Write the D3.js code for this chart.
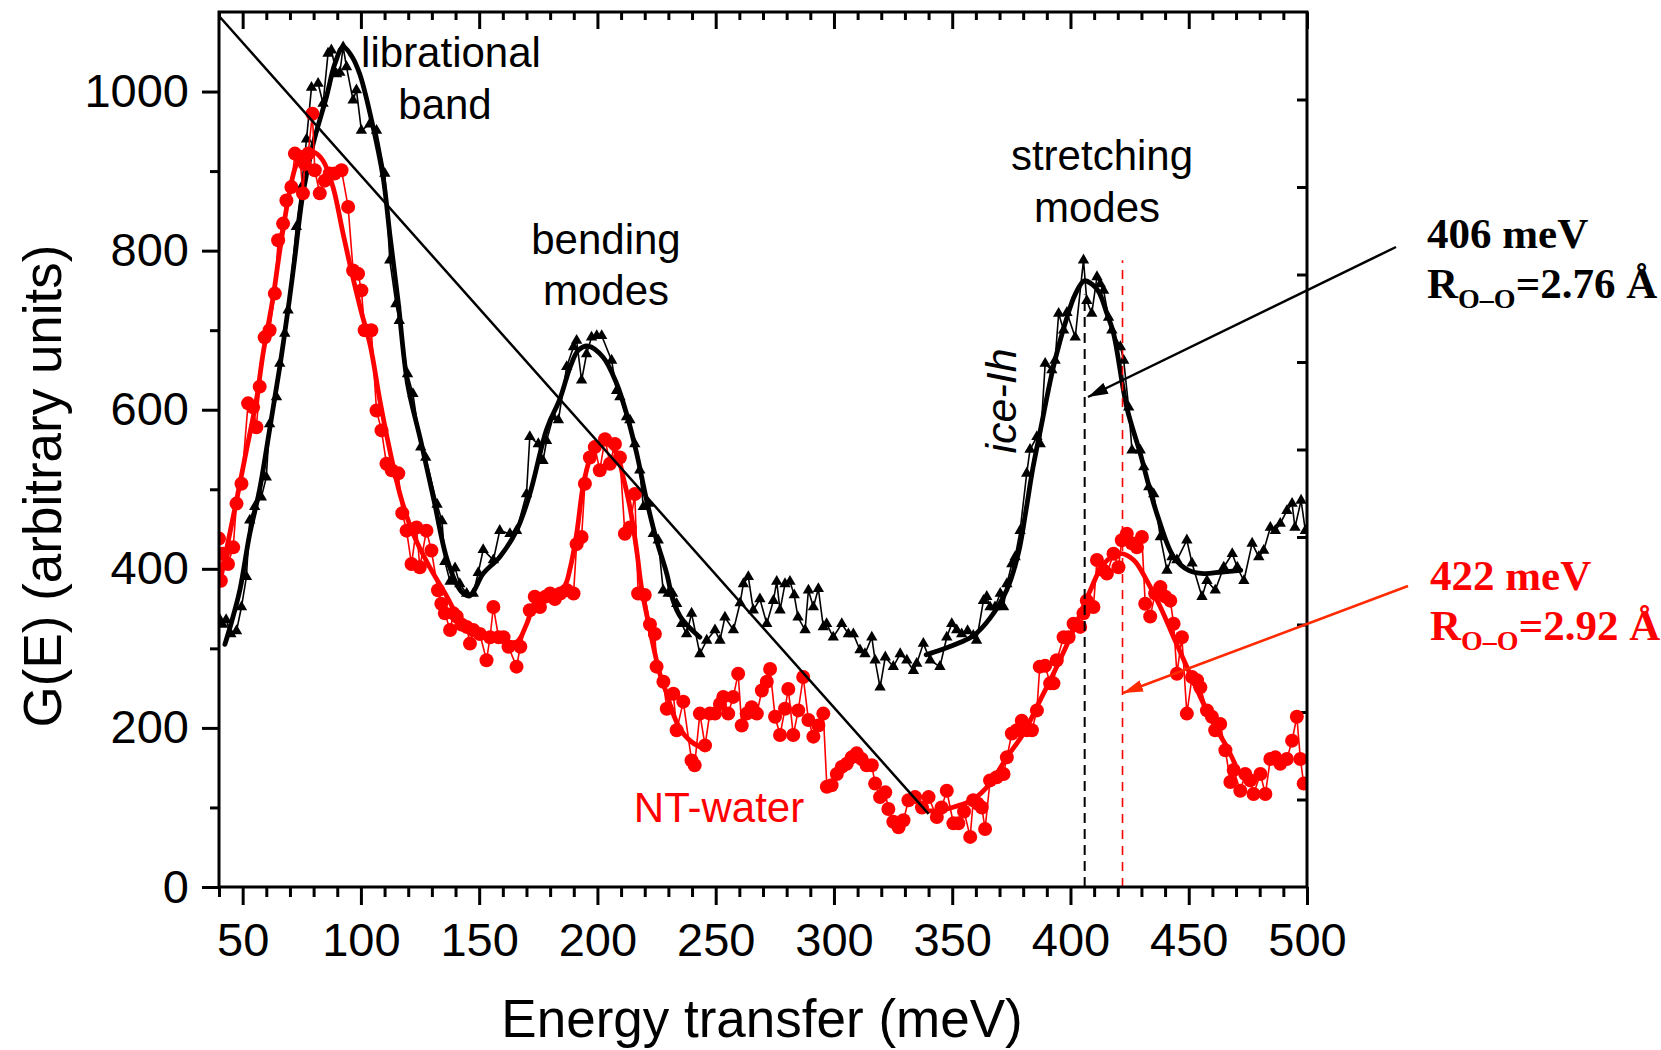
<!doctype html>
<html>
<head>
<meta charset="utf-8">
<title>G(E) ice-Ih and NT-water</title>
<style>
  body { margin: 0; background: #fff; }
  svg { display: block; }
</style>
</head>
<body>
<svg width="1661" height="1050"></svg>
<script src="https://d3js.org/d3.v7.min.js"></script>
<script>
// measured G(E) of bulk ice-Ih (black triangles), [energy meV, G]
const iceData = [[40,338],[41.5,330],[43,336],[45,318],[47.4,322],[49.5,352],[51.6,390],[53,461],[55.1,478],[57.9,490],[60,515],[61.4,582],[64.3,616],[65.7,658],[67.8,696],[69.2,725],[72.7,830],[74.9,880],[77,940],[79.1,1005],[81.9,1010],[84,985],[86.1,1048],[87.5,1052],[89.7,1022],[91.1,1024],[92.5,1056],[93.9,1031],[96.7,989],[98.1,1002],[100.2,951],[103.7,959],[106.6,951],[110.1,897],[112.2,788],[114.8,733],[116.2,712],[119.7,645],[122,620],[125.3,553],[127.4,540],[132.2,481],[134.3,460],[135.5,409],[137.7,384],[139.8,401],[141.8,381],[144.7,369],[147.5,369],[149.6,395],[151.7,424],[156,411],[158.7,448],[163,444],[165.8,448],[170,494],[171.4,566],[175,557],[177,536],[178.5,561],[181.3,591],[183.5,587],[187,654],[189.9,679],[191.2,687],[193.3,637],[195.4,670],[197.5,691],[199.7,693],[201.8,693],[206,662],[208.1,624],[209.5,616],[212.3,591],[213.7,587],[215.8,557],[217.9,524],[219.4,478],[221.5,482],[223.6,444],[225.7,436],[227.8,373],[229.9,369],[231.8,369],[233.5,356],[235.6,331],[237.7,318],[239.8,344],[243.3,293],[246.2,310],[249.7,323],[251.8,310],[253.9,339],[257.5,323],[260.3,357],[261.7,381],[263.8,390],[265.9,348],[268.7,362],[271.6,331],[274.4,360],[275.8,384],[277.2,348],[279.3,381],[281.4,384],[283.2,367],[284.8,339],[287.8,323],[289.2,373],[291.3,352],[293.4,375],[295.5,327],[296.9,331],[299.7,314],[303.3,331],[306.1,318],[308.2,318],[311,298],[313.1,293],[316,314],[317.4,285],[319.5,251],[321.7,289],[325.1,277],[328,293],[330.8,285],[333.6,272],[335,281],[337.8,306],[340.7,285],[344.8,277],[347.7,314],[349.8,331],[351.9,323],[354,318],[356.5,322],[358.9,316],[360.3,310],[363.2,360],[364.6,365],[366,352],[368.1,352],[370.3,369],[371.7,352],[373.1,381],[375.2,406],[376.6,415],[378.7,448],[381.5,520],[382.9,550],[385.8,566],[387.2,557],[389.3,658],[392.1,650],[393.5,662],[395,721],[397.1,700],[398.5,722],[402,691],[405.5,788],[406.9,737],[409,721],[411.2,767],[412.6,758],[414,750],[416.1,716],[417.5,700],[421.1,679],[422.5,662],[424.6,603],[426,549],[429.5,549],[431,528],[433.1,503],[435.2,494],[438,440],[440.8,398],[442.9,415],[445,411],[449.2,436],[451.4,407],[455.6,365],[457.7,385],[461.2,373],[464.8,402],[468.4,419],[470.5,402],[473.3,385],[476.8,432],[479.6,415],[481.7,423],[484.5,452],[486.6,448],[488.7,457],[491.5,473],[493.7,482],[494.9,452],[497.5,486],[499.3,448]];

// measured G(E) of water in nanotubes (red circles)
const ntData = [[40,438],[40.8,385],[41.7,419],[43.8,406],[46,427],[47.4,482],[49.5,507],[52.3,608],[54.4,603],[55.8,578],[57.2,629],[59.3,691],[61.4,700],[63.6,746],[65,813],[67.1,834],[68.5,863],[70.6,880],[72.1,922],[74.2,918],[75.5,872],[76.3,909],[77.7,922],[79.5,972],[80.5,901],[82.6,872],[84.7,888],[86.8,897],[88.9,897],[91.8,901],[94.6,855],[96.7,775],[98.8,771],[100.2,750],[101.6,700],[104.4,700],[106.6,599],[108.7,574],[110.8,532],[113,524],[115.8,520],[117.5,470],[119.3,448],[121.4,406],[123.5,452],[124.9,402],[127.7,448],[129.8,423],[132.6,373],[134,356],[135.5,344],[137.7,323],[139.1,344],[140.5,340],[142.5,330],[144.7,327],[146.1,306],[147.5,323],[150.3,318],[153.1,285],[154.6,314],[156,352],[158.2,314],[160.3,314],[162.4,302],[165.8,277],[167.4,302],[171.4,348],[173.5,365],[175.7,352],[178,365],[180,369],[182,362],[184.3,369],[187.1,373],[189.9,369],[191.2,431],[193.3,440],[194.7,507],[196.8,540],[198.9,553],[201,524],[203.2,563],[205.3,532],[207.4,557],[209.5,540],[211.6,444],[213.7,452],[215.8,494],[217.2,369],[220,367],[222.2,330],[224.3,318],[225,277],[227.9,258],[229.3,224],[232.1,243],[233.5,197],[236.3,233],[239.8,159],[241.1,153],[243.3,218],[245.5,178],[247.5,218],[249.7,218],[251.8,230],[253.2,239],[255.3,218],[257.4,239],[259.5,268],[261,203],[263.1,218],[265.2,226],[267.4,218],[269.5,247],[271.6,258],[273,274],[275.1,214],[277.2,191],[279.3,224],[280.7,249],[282.8,191],[284.9,222],[287,264],[289.2,210],[291.3,189],[293.4,203],[295.5,218],[297,126],[299,128],[301.2,142],[303.3,151],[305.4,155],[307.5,163],[309.6,168],[311.7,161],[313.8,153],[316,153],[317.4,130],[319.5,113],[321.7,119],[323,98],[325.1,82],[327.3,75],[329.4,84],[331.5,109],[334.3,113],[337.2,100],[340,113],[343.5,88],[345.5,100],[347.7,121],[350.5,80],[352.6,80],[355,95],[357.6,63],[358.9,109],[360.7,105],[362.5,100],[363.9,73],[366,134],[368.8,138],[371.7,142],[373.1,163],[375.2,193],[377.3,197],[379.4,209],[381.5,197],[383.7,197],[385.8,222],[387,277],[389.3,278],[391.4,256],[392.8,256],[394.2,285],[397.1,314],[399.2,314],[401.3,331],[404.1,327],[405.5,344],[406.9,360],[409.7,352],[411.2,411],[414,398],[415.4,394],[418.2,419],[420.3,402],[421.7,436],[423.8,444],[425.9,432],[428.1,427],[430.2,440],[431.6,356],[433.7,340],[435.8,369],[438,377],[440.1,365],[442.2,360],[443.6,331],[445,268],[447.1,314],[449.2,218],[451.4,264],[453.5,260],[454.9,251],[457.7,222],[459.8,214],[461.2,197],[463.3,205],[465.5,172],[467.6,132],[469,147],[471.8,121],[473.9,142],[476,134],[477.4,117],[480.3,142],[482.4,117],[484.5,161],[486.6,163],[488.7,155],[491.5,161],[493.7,184],[495.7,214],[497.2,161],[498.6,130]];

// smooth fits (thick lines), two ranges each
const iceFitLow = [[42.5,305],[45,330],[48.8,373],[53,444],[57.2,500],[61.4,575],[65.7,654],[69.7,737],[72,790],[75.5,872],[79.8,934],[85.4,993],[89,1035],[92.5,1056],[96,1045],[99.5,1022],[104.5,964],[109.4,892],[112.2,821],[115.7,737],[119.7,633],[125.3,561],[130.9,486],[136.5,411],[142.3,372],[146,366],[151.7,394],[158.7,415],[165.8,448],[171.4,494],[178.5,575],[184.3,615],[188.5,654],[192,675],[196.1,680],[202.4,666],[208.1,633],[212.3,595],[216.6,545],[220.8,486],[225,436],[229.3,394],[232,360],[235,340],[238,329],[243.3,314]];
const iceFitHigh = [[339,292],[345,298],[353,307],[359,316],[366,338],[373,373],[378,420],[381,470],[384,525],[387,570],[392.8,654],[398.5,716],[402,745],[405.8,762],[409,758],[412,748],[415.4,721],[418.2,696],[423.8,603],[429.5,545],[433.7,498],[437,465],[443.6,415],[450,398],[456.3,394],[464,396],[472,398]];
const ntFitLow = [[40.3,381],[43.1,423],[47.4,486],[51.6,549],[55.8,612],[58.6,670],[62.8,740],[65.7,800],[69.9,875],[72.7,908],[76,922],[80,924],[84,913],[88.2,880],[92.5,821],[96.7,765],[100,725],[104,680],[108,612],[112.2,549],[116.5,494],[122.1,444],[129.1,402],[136.2,366],[143.2,330],[150.3,318],[158,312],[165.8,308],[170,330],[173.5,356],[180,368],[186,378],[188.4,400],[191.2,444],[194,505],[196.8,538],[199.6,553],[203.9,557],[208.1,545],[210.9,515],[213.7,478],[216.6,423],[218.7,375],[222.2,323],[226.4,268],[229.3,243],[232,218],[234.9,199],[239.1,184],[243.3,176]];
const ntFitHigh = [[339.2,96],[344.8,96],[353.3,103],[358.9,110],[366,130],[373.1,163],[380.1,193],[387.2,235],[394.2,277],[401.3,323],[408.4,373],[414,406],[421.1,419],[426.7,411],[432.3,385],[438,352],[443.6,314],[449.2,277],[454.9,239],[460.5,205],[466.1,176],[469.5,155]];

// straight guide line and peak markers
const guideLine = [[40,1095],[340,92]];
const icePeak = {e: 406, top: 745};
const ntPeak = {e: 422, top: 788};

const xTicks = [50,100,150,200,250,300,350,400,450,500];
const xMinorTicks = d3.range(40, 501, 10).filter(v => v % 50 !== 0);
const yTicks = [0,200,400,600,800,1000];
const yMinorTicks = [100,300,500,700,900];

const svg = d3.select("svg");
const margin = {left: 219, top: 12, right: 354, bottom: 163};
const plotW = 1661 - margin.left - margin.right;
const plotH = 1050 - margin.top - margin.bottom;
const sans = "'Liberation Sans', Arial, sans-serif";
const serif = "'Liberation Serif', 'Times New Roman', serif";

svg.append("rect").attr("width", 1661).attr("height", 1050).attr("fill", "#fff");

const defs = svg.append("defs");
defs.append("clipPath").attr("id", "plotclip")
  .append("rect").attr("width", plotW).attr("height", plotH);

function arrowHead(id, color) {
  defs.append("marker")
    .attr("id", id)
    .attr("viewBox", "0 0 10 10")
    .attr("refX", 10).attr("refY", 5)
    .attr("markerUnits", "userSpaceOnUse")
    .attr("markerWidth", 20).attr("markerHeight", 12)
    .attr("preserveAspectRatio", "none")
    .attr("orient", "auto")
    .append("path").attr("d", "M0,0L10,5L0,10z").attr("fill", color);
}
arrowHead("headBlack", "#000");
arrowHead("headRed", "#ff2a00");

const g = svg.append("g").attr("transform", "translate(" + margin.left + "," + margin.top + ")");

const x = d3.scaleLinear().domain([40, 500]).range([0, plotW]);
const y = d3.scaleLinear().domain([0, 1100]).range([plotH, 0]);
const rightScale = d3.scaleLinear().domain([0, 10]).range([plotH, 0]);

// axes
function styleAxis(sel) {
  sel.select(".domain").remove();
  sel.selectAll(".tick line").attr("stroke", "#000").attr("stroke-width", 3);
  sel.selectAll(".tick text").attr("fill", "#000").attr("font-family", sans).attr("font-size", 47);
}
g.append("g").attr("transform", "translate(0," + plotH + ")")
  .call(d3.axisBottom(x).tickValues(xMinorTicks).tickSize(10).tickFormat(""))
  .call(styleAxis);
g.append("g").attr("transform", "translate(0," + plotH + ")")
  .call(d3.axisBottom(x).tickValues(xTicks).tickSize(18).tickPadding(18).tickFormat(d3.format("d")))
  .call(styleAxis);
g.append("g")
  .call(d3.axisTop(x).tickValues(xMinorTicks).tickSize(-8).tickFormat(""))
  .call(styleAxis);
g.append("g")
  .call(d3.axisTop(x).tickValues(xTicks).tickSize(-17).tickFormat(""))
  .call(styleAxis);
g.append("g")
  .call(d3.axisLeft(y).tickValues(yMinorTicks).tickSize(9).tickFormat(""))
  .call(styleAxis);
g.append("g")
  .call(d3.axisLeft(y).tickValues(yTicks).tickSize(17).tickPadding(13).tickFormat(d3.format("d")))
  .call(styleAxis);
g.append("g").attr("transform", "translate(" + plotW + ",0)")
  .call(d3.axisRight(rightScale).tickValues([1,2,3,4,5,6,7,8,9]).tickSize(-10).tickFormat(""))
  .call(styleAxis);

// data layer
const plot = g.append("g").attr("clip-path", "url(#plotclip)");
const line = d3.line().x(d => x(d[0])).y(d => y(d[1]));
const smooth = d3.line().x(d => x(d[0])).y(d => y(d[1])).curve(d3.curveCatmullRom.alpha(0.5));

plot.append("path").datum(iceData).attr("d", line)
  .attr("fill", "none").attr("stroke", "#000").attr("stroke-width", 1.6);
plot.append("g").selectAll("path").data(iceData).enter().append("path")
  .attr("transform", d => "translate(" + x(d[0]) + "," + y(d[1]) + ")")
  .attr("d", d3.symbol(d3.symbolTriangle, 56))
  .attr("fill", "#000");
[iceFitLow, iceFitHigh].forEach(f => {
  plot.append("path").datum(f).attr("d", smooth)
    .attr("fill", "none").attr("stroke", "#000").attr("stroke-width", 4.8).attr("stroke-linecap", "round");
});

plot.append("path").datum(ntData).attr("d", line)
  .attr("fill", "none").attr("stroke", "#ff0000").attr("stroke-width", 1.6);
plot.append("g").selectAll("circle").data(ntData).enter().append("circle")
  .attr("cx", d => x(d[0])).attr("cy", d => y(d[1])).attr("r", 7)
  .attr("fill", "#ff0000");
[ntFitLow, ntFitHigh].forEach(f => {
  plot.append("path").datum(f).attr("d", smooth)
    .attr("fill", "none").attr("stroke", "#ff0000").attr("stroke-width", 4.8).attr("stroke-linecap", "round");
});

plot.append("path").datum(guideLine).attr("d", line)
  .attr("fill", "none").attr("stroke", "#000").attr("stroke-width", 2.5);

plot.append("line")
  .attr("x1", x(icePeak.e)).attr("x2", x(icePeak.e))
  .attr("y1", y(0)).attr("y2", y(icePeak.top))
  .attr("stroke", "#000").attr("stroke-width", 2).attr("stroke-dasharray", "10,6");
plot.append("line")
  .attr("x1", x(ntPeak.e)).attr("x2", x(ntPeak.e))
  .attr("y1", y(0)).attr("y2", y(ntPeak.top))
  .attr("stroke", "#ff0000").attr("stroke-width", 1.6).attr("stroke-dasharray", "9,7");

// frame
g.append("rect").attr("width", plotW).attr("height", plotH)
  .attr("fill", "none").attr("stroke", "#000").attr("stroke-width", 3);

// axis titles
svg.append("text")
  .attr("x", 762).attr("y", 1037)
  .attr("text-anchor", "middle")
  .attr("font-family", sans).attr("font-size", 53)
  .text("Energy transfer (meV)");
svg.append("text")
  .attr("transform", "translate(61,486) rotate(-90)")
  .attr("text-anchor", "middle")
  .attr("font-family", sans).attr("font-size", 53)
  .text("G(E) (arbitrary units)");

// band labels
function label(txt, px, py, color) {
  return svg.append("text")
    .attr("x", px).attr("y", py)
    .attr("text-anchor", "middle")
    .attr("font-family", sans).attr("font-size", 42)
    .attr("fill", color || "#000")
    .text(txt);
}
label("librational", 451, 67);
label("band", 445, 119);
label("bending", 606, 254);
label("modes", 606, 305);
label("stretching", 1102, 170);
label("modes", 1097, 222);
label("NT-water", 719, 822, "#ff0000");

svg.append("text")
  .attr("transform", "translate(1016,401) rotate(-90)")
  .attr("text-anchor", "middle")
  .attr("font-family", sans).attr("font-size", 43).attr("font-style", "italic")
  .text("ice-Ih");

// peak annotations
function peakNote(px, py, energy, dist, color) {
  svg.append("text")
    .attr("x", px).attr("y", py)
    .attr("font-family", serif).attr("font-weight", "bold").attr("font-size", 43)
    .attr("fill", color)
    .text(energy);
  const t = svg.append("text")
    .attr("x", px).attr("y", py + 50)
    .attr("font-family", serif).attr("font-weight", "bold").attr("font-size", 43)
    .attr("fill", color);
  t.append("tspan").text("R");
  t.append("tspan").attr("font-size", 28).attr("dy", 10).text("O\u2013O");
  t.append("tspan").attr("dy", -10).text("=" + dist);
}
peakNote(1427, 248, "406 meV", "2.76 \u00c5", "#000");
peakNote(1430, 590, "422 meV", "2.92 \u00c5", "#ff0000");

svg.append("line")
  .attr("x1", 1396).attr("y1", 247).attr("x2", 1088).attr("y2", 397)
  .attr("stroke", "#000").attr("stroke-width", 2.5)
  .attr("marker-end", "url(#headBlack)");
svg.append("line")
  .attr("x1", 1408).attr("y1", 586).attr("x2", 1123).attr("y2", 693)
  .attr("stroke", "#ff2a00").attr("stroke-width", 2.5)
  .attr("marker-end", "url(#headRed)");
</script>
</body>
</html>
